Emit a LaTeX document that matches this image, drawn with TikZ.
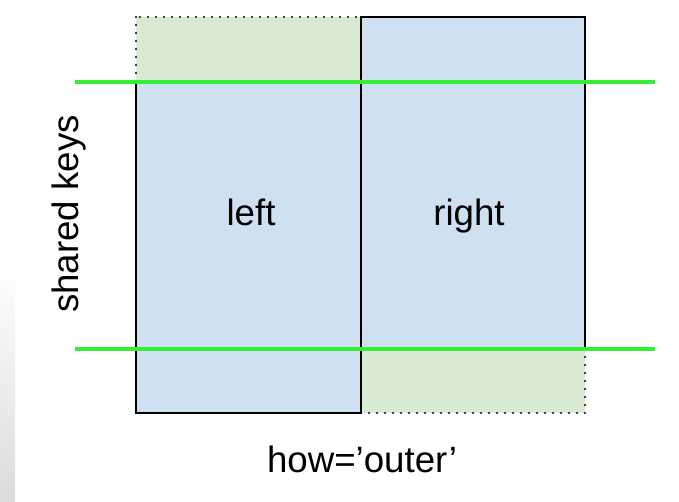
\documentclass[tikz,border=0pt]{standalone}
\usepackage{fontspec}
\setmainfont{Liberation Sans}
\begin{document}
\begin{tikzpicture}[x=0.75pt,y=-0.75pt,
  bluefill/.style={fill=blueA,draw=black,line width=1.1pt},
  greendot/.style={fill=greenA,draw=black,line width=1.8pt,line cap=round,dash pattern=on 0pt off 6pt},
  keyline/.style={draw=keygreen,line width=2.6pt},
  lbl/.style={font=\fontsize{27.5}{32}\selectfont,inner sep=0pt}]
\definecolor{blueA}{HTML}{CFE0F1}
\definecolor{greenA}{HTML}{D9EAD3}
\definecolor{keygreen}{HTML}{33EE33}
\useasboundingbox (0,0) rectangle (679,501);
\shade[top color=white,bottom color=black!14] (0,262) rectangle (15,501);
% green dotted outer parts
\draw[greendot] (136,17) rectangle (361,82);
\draw[greendot] (361,349) rectangle (585,413);
% blue data frames
\draw[bluefill] (136,82) rectangle (361,413);
\draw[bluefill] (361,17) rectangle (585,349);
% key lines
\coordinate (k1a) at (75,82);
\coordinate (k1b) at (655,82);
\coordinate (k2a) at (75,349);
\coordinate (k2b) at (655,349);
\draw[keyline] (k1a) -- (k1b);
\draw[keyline] (k2a) -- (k2b);
% labels
\node[lbl,anchor=base] (left) at (251,225) {left};
\node[lbl,anchor=base] (right) at (469,225) {right};
\node[lbl,rotate=90] (keys) at (69,214) {shared keys};
\node[lbl,anchor=base] (how) at (362,472) {how=’outer’};
\end{tikzpicture}
\end{document}
